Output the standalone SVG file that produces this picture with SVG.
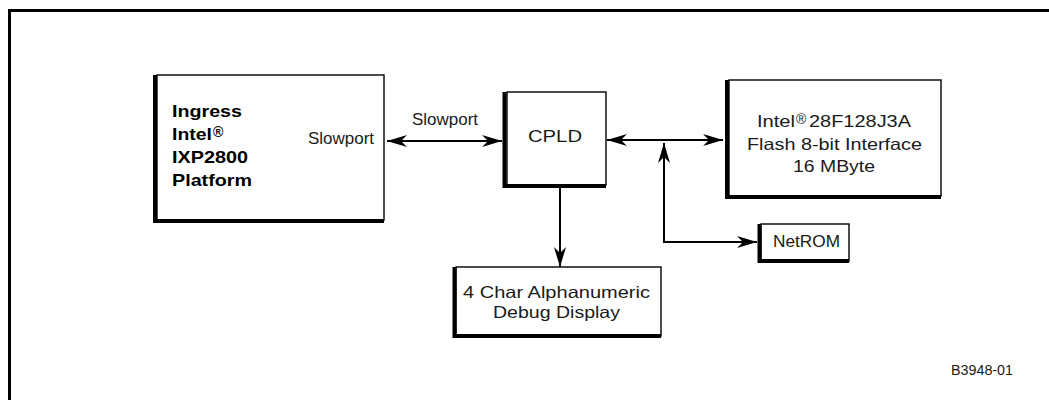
<svg xmlns="http://www.w3.org/2000/svg" width="1049" height="400" viewBox="0 0 1049 400">
<style>
  .box{fill:#fff;stroke:#000;stroke-width:1.4}
  .sh{fill:none;stroke:#000;stroke-width:4}
  .t{font-family:"Liberation Sans",Arial,Helvetica,sans-serif;font-size:16.5px;fill:#1a1a1a}
  .b{font-family:"Liberation Sans",Arial,Helvetica,sans-serif;font-size:17px;font-weight:bold;fill:#000}
  .c{fill:none;stroke:#000;stroke-width:2}
</style>
<defs>
  <marker id="ah" markerUnits="userSpaceOnUse" markerWidth="20" markerHeight="12" refX="20" refY="6" orient="auto-start-reverse" viewBox="0 0 20 12">
    <path d="M0,0 L20,6 L0,12 L6,6 Z" fill="#000"/>
  </marker>
</defs>
<rect x="9.5" y="10.5" width="1100" height="500" fill="none" stroke="#000" stroke-width="3"/>

<g id="ixp">
  <rect class="box" x="157" y="75" width="227" height="145"/>
  <path class="sh" d="M155,75 V221 H384"/>
  <text class="b" x="172" y="117" textLength="70" lengthAdjust="spacingAndGlyphs">Ingress</text>
  <text class="b" y="140"><tspan x="172" textLength="40" lengthAdjust="spacingAndGlyphs">Intel</tspan><tspan x="213" dy="-3" font-size="14">®</tspan></text>
  <text class="b" x="172" y="163" textLength="76" lengthAdjust="spacingAndGlyphs">IXP2800</text>
  <text class="b" x="172" y="186" textLength="80" lengthAdjust="spacingAndGlyphs">Platform</text>
  <text class="t" x="308" y="144" textLength="66" lengthAdjust="spacingAndGlyphs">Slowport</text>
</g>

<g id="cpld">
  <rect class="box" x="507" y="92" width="99" height="93"/>
  <path class="sh" d="M504.5,92 V186 H606"/>
  <text class="t" x="528" y="142" textLength="54" lengthAdjust="spacingAndGlyphs">CPLD</text>
</g>

<g id="flash">
  <rect class="box" x="729" y="80" width="212" height="116"/>
  <path class="sh" d="M727,80 V197 H941"/>
  <text class="t" y="127"><tspan x="757" textLength="38" lengthAdjust="spacingAndGlyphs">Intel</tspan><tspan x="796" dy="-3" font-size="14">®</tspan><tspan x="809" dy="3" textLength="102" lengthAdjust="spacingAndGlyphs">28F128J3A</tspan></text>
  <text class="t" x="747" y="150" textLength="175" lengthAdjust="spacingAndGlyphs">Flash 8-bit Interface</text>
  <text class="t" x="793" y="172" textLength="82" lengthAdjust="spacingAndGlyphs">16 MByte</text>
</g>

<g id="netrom">
  <rect class="box" x="761" y="224" width="88" height="37"/>
  <path class="sh" d="M759.5,224 V261 H849"/>
  <text class="t" x="773" y="247" textLength="67" lengthAdjust="spacingAndGlyphs">NetROM</text>
</g>

<g id="debug">
  <rect class="box" x="456" y="267" width="205" height="69"/>
  <path class="sh" d="M454.5,267 V336 H661"/>
  <text class="t" x="463" y="298" textLength="187" lengthAdjust="spacingAndGlyphs">4 Char Alphanumeric</text>
  <text class="t" x="493" y="318" textLength="127" lengthAdjust="spacingAndGlyphs">Debug Display</text>
</g>

<g id="connectors">
  <path class="c" d="M387,141 H502" marker-start="url(#ah)" marker-end="url(#ah)"/>
  <path class="c" d="M607,140 H723" marker-start="url(#ah)" marker-end="url(#ah)"/>
  <path class="c" d="M560,186 V267" marker-end="url(#ah)"/>
  <path class="c" d="M664,143 V242 H757" marker-start="url(#ah)" marker-end="url(#ah)"/>
  <text class="t" x="412" y="125" textLength="66" lengthAdjust="spacingAndGlyphs">Slowport</text>
</g>

<text class="t" x="951" y="375" font-size="14" style="font-size:14px" textLength="62" lengthAdjust="spacingAndGlyphs">B3948-01</text>
</svg>
